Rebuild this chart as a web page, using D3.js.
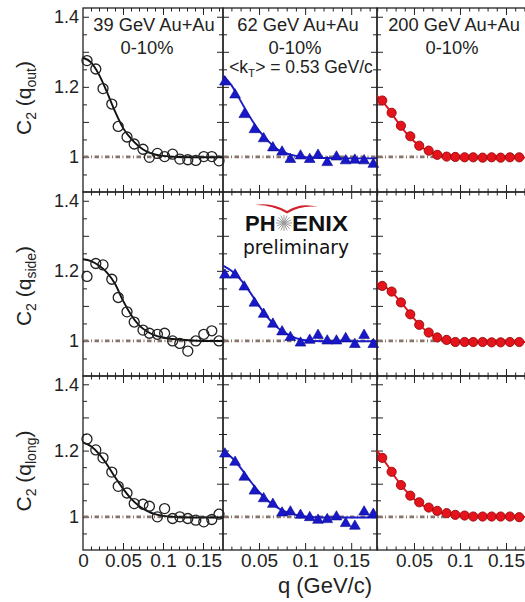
<!DOCTYPE html>
<html>
<head>
<meta charset="utf-8">
<script src="https://cdn.jsdelivr.net/npm/d3@7"></script>
<style>
body { margin: 0; background: #fff; }
svg { display: block; font-family: "Liberation Sans", Arial, sans-serif; }
</style>
</head>
<body>
<div id="chart"></div>
<script>
// C2 correlation functions - 3 beam energies (columns) x 3 directions (rows)

var energies = ["39 GeV Au+Au", "62 GeV Au+Au", "200 GeV Au+Au"];
var centrality = "0-10%";
var directions = ["out", "side", "long"];

// data points, 39 GeV (open circles)
var q39 = [0.005, 0.016, 0.025, 0.036, 0.044, 0.055, 0.064, 0.075, 0.083, 0.093, 0.102, 0.112, 0.121, 0.131, 0.141, 0.151, 0.161, 0.170];
var c39Out  = [1.275, 1.251, 1.195, 1.151, 1.087, 1.057, 1.037, 1.022, 0.999, 1.010, 1.001, 1.008, 0.994, 0.992, 0.990, 1.001, 1.001, 0.989];
var c39Side = [1.184, 1.221, 1.217, 1.176, 1.124, 1.083, 1.054, 1.031, 1.022, 1.019, 1.022, 1.000, 0.993, 0.971, 1.000, 1.019, 1.029, 1.000];
var c39Long = [1.235, 1.202, 1.178, 1.135, 1.092, 1.072, 1.040, 1.038, 1.032, 1.000, 1.025, 0.995, 1.000, 0.995, 0.990, 0.985, 0.992, 1.008];

// 62 GeV (blue triangles)
var q62 = [0.013, 0.024, 0.034, 0.045, 0.055, 0.065, 0.075, 0.084, 0.095, 0.105, 0.114, 0.124, 0.134, 0.144, 0.154, 0.164, 0.174];
var c62Out  = [1.217, 1.180, 1.124, 1.081, 1.055, 1.029, 1.017, 0.996, 1.006, 0.996, 1.008, 0.987, 1.003, 0.992, 0.994, 0.992, 0.982];
var c62Side = [1.191, 1.191, 1.157, 1.111, 1.079, 1.051, 1.029, 1.013, 0.997, 1.005, 1.019, 1.003, 1.003, 1.010, 0.993, 1.019, 0.993];
var c62Long = [1.193, 1.168, 1.123, 1.081, 1.058, 1.041, 1.015, 1.018, 1.008, 1.001, 0.993, 0.995, 1.003, 0.983, 0.975, 1.018, 1.011];

// 200 GeV (red circles)
var q200 = [0.0155, 0.0257, 0.0358, 0.046, 0.0557, 0.066, 0.0753, 0.0855, 0.0949, 0.105, 0.1144, 0.1246, 0.1344, 0.1442, 0.1543, 0.1644];
var c200Out  = [1.161, 1.126, 1.089, 1.059, 1.032, 1.018, 1.006, 1.001, 1.000, 0.999, 0.999, 0.998, 0.999, 0.998, 0.999, 0.999];
var c200Side = [1.157, 1.141, 1.110, 1.076, 1.046, 1.024, 1.010, 1.003, 0.997, 0.997, 0.997, 0.997, 0.996, 0.996, 0.997, 0.997];
var c200Long = [1.178, 1.136, 1.096, 1.064, 1.044, 1.028, 1.018, 1.011, 1.006, 1.004, 1.001, 1.001, 1.001, 1.001, 1.001, 0.999];

// fit curves
var fitQ39 = [0, 0.01, 0.02, 0.03, 0.04, 0.05, 0.06, 0.07, 0.08, 0.09, 0.1, 0.12, 0.15, 0.175];
var fit39Out  = [1.283, 1.27, 1.235, 1.185, 1.13, 1.083, 1.052, 1.03, 1.015, 1.007, 1.003, 1.0, 0.999, 0.999];
var fit39Side = [1.233, 1.228, 1.215, 1.195, 1.163, 1.115, 1.075, 1.045, 1.027, 1.016, 1.01, 1.004, 1.0, 1.0];
var fit39Long = [1.225, 1.213, 1.19, 1.158, 1.12, 1.085, 1.055, 1.033, 1.018, 1.008, 1.003, 0.999, 0.998, 0.998];

var fitQ62 = [0.011, 0.02, 0.03, 0.04, 0.05, 0.06, 0.07, 0.08, 0.09, 0.1, 0.12, 0.15, 0.178];
var fit62Out  = [1.232, 1.205, 1.16, 1.115, 1.075, 1.045, 1.022, 1.01, 1.003, 0.999, 0.997, 0.996, 0.996];
var fit62Side = [1.215, 1.2, 1.175, 1.14, 1.1, 1.065, 1.038, 1.02, 1.008, 1.002, 0.999, 0.999, 0.999];
var fit62Long = [1.2, 1.18, 1.148, 1.11, 1.075, 1.048, 1.028, 1.014, 1.006, 1.001, 0.998, 0.998, 0.998];

var fitQ200 = [0.0098, 0.02, 0.03, 0.04, 0.05, 0.06, 0.07, 0.08, 0.09, 0.1, 0.12, 0.15, 0.178];
var fit200Out  = [1.175, 1.145, 1.108, 1.073, 1.045, 1.025, 1.012, 1.004, 1.0, 0.999, 0.998, 0.998, 0.998];
var fit200Side = [1.165, 1.152, 1.128, 1.097, 1.064, 1.036, 1.017, 1.006, 1.0, 0.998, 0.997, 0.997, 0.997];
var fit200Long = [1.2, 1.16, 1.118, 1.082, 1.054, 1.034, 1.02, 1.011, 1.006, 1.003, 1.001, 1.0, 1.0];

var yTickLabels = [1, 1.2, 1.4];
var xTickLabels39 = [0, 0.05, 0.1, 0.15];
var xTickLabelsHigh = [0.05, 0.1, 0.15];

// series table built from the arrays above
var series = [
  { q: q39, vals: [c39Out, c39Side, c39Long], fq: fitQ39, fits: [fit39Out, fit39Side, fit39Long], kind: "open" },
  { q: q62, vals: [c62Out, c62Side, c62Long], fq: fitQ62, fits: [fit62Out, fit62Side, fit62Long], kind: "tri" },
  { q: q200, vals: [c200Out, c200Side, c200Long], fq: fitQ200, fits: [fit200Out, fit200Side, fit200Long], kind: "red" }
];

// panel layout (pixels)
var W = 525, H = 602;
var cols = [
  { x0: 83, x1: 223, dom: [0, 0.175] },
  { x0: 223, x1: 377, dom: [0.0109, 0.178] },
  { x0: 377, x1: 531, dom: [0.0098, 0.1772] }
];
var rows = [
  { y0: 8, y1: 192 },
  { y0: 192, y1: 376 },
  { y0: 376, y1: 550 }
];
var yDom = [0.9, 1.425];

var lineColor = { open: "#111", tri: "#1c1cc8", red: "#e0141e" };

var svg = d3.select("#chart")
  .append("svg")
  .attr("width", W)
  .attr("height", H);

var xTicksAll = d3.range(0, 18).map(function(i) { return i / 100; });
var yTicksAll = d3.range(18, 29).map(function(i) { return Math.round(i * 5) / 100; });

cols.forEach(function(col, ci) {
  rows.forEach(function(row, ri) {
    var x = d3.scaleLinear().domain(col.dom).range([col.x0, col.x1]);
    var y = d3.scaleLinear().domain(yDom).range([row.y1, row.y0]);
    var s = series[ci];
    var g = svg.append("g");

    var xIn = xTicksAll.filter(function(v) { return v > col.dom[0] + 1e-6 && v < col.dom[1] - 1e-6; });
    var xMaj = xIn.filter(function(v) { return Math.round(v * 100) % 5 === 0; });
    var xMin = xIn.filter(function(v) { return Math.round(v * 100) % 5 !== 0; });
    var yIn = yTicksAll.filter(function(v) { return v > yDom[0] + 1e-6 && v < yDom[1]; });
    var yMaj = yIn.filter(function(v) { return Math.round(v * 100) % 10 === 0; });
    var yMin = yIn.filter(function(v) { return Math.round(v * 100) % 10 !== 0; });

    // inward ticks on all 4 sides
    function tickAxis(axis, vals, size, tr) {
      g.append("g")
        .attr("transform", tr)
        .call(axis.tickValues(vals).tickSize(size).tickFormat(""))
        .call(function(a) { a.select(".domain").remove(); a.selectAll("line").attr("stroke", "#222"); });
    }
    tickAxis(d3.axisBottom(x), xMaj, -7, "translate(0," + row.y1 + ")");
    tickAxis(d3.axisBottom(x), xMin, -3.5, "translate(0," + row.y1 + ")");
    tickAxis(d3.axisTop(x), xMaj, -7, "translate(0," + row.y0 + ")");
    tickAxis(d3.axisTop(x), xMin, -3.5, "translate(0," + row.y0 + ")");
    tickAxis(d3.axisLeft(y), yMaj, -6, "translate(" + col.x0 + ",0)");
    tickAxis(d3.axisLeft(y), yMin, -4, "translate(" + col.x0 + ",0)");
    tickAxis(d3.axisRight(y), yMaj, -6, "translate(" + col.x1 + ",0)");
    tickAxis(d3.axisRight(y), yMin, -4, "translate(" + col.x1 + ",0)");

    // frame
    g.append("rect")
      .attr("x", col.x0).attr("y", row.y0)
      .attr("width", col.x1 - col.x0).attr("height", row.y1 - row.y0)
      .attr("fill", "none").attr("stroke", "#222").attr("stroke-width", 1.3);

    // C2 = 1 reference line
    g.append("line")
      .attr("x1", col.x0 + 1).attr("x2", col.x1 - 1)
      .attr("y1", y(1)).attr("y2", y(1))
      .attr("stroke", "#86746a").attr("stroke-width", 2.8)
      .attr("stroke-dasharray", "4.5,2.5,1,2.5");

    // fit
    var fitPts = s.fq.map(function(q, i) { return [q, s.fits[ri][i]]; });
    g.append("path")
      .datum(fitPts)
      .attr("fill", "none")
      .attr("stroke", lineColor[s.kind])
      .attr("stroke-width", 1.9)
      .attr("d", d3.line()
        .x(function(d) { return x(d[0]); })
        .y(function(d) { return y(d[1]); })
        .curve(d3.curveMonotoneX));

    // points
    var pts = s.q.map(function(q, i) { return [q, s.vals[ri][i]]; });
    if (s.kind === "open") {
      g.selectAll("circle.p").data(pts).enter().append("circle")
        .attr("cx", function(d) { return x(d[0]); })
        .attr("cy", function(d) { return y(d[1]); })
        .attr("r", 5)
        .attr("fill", "none").attr("stroke", "#222").attr("stroke-width", 1.3);
    } else if (s.kind === "tri") {
      g.selectAll("path.p").data(pts).enter().append("path")
        .attr("transform", function(d) { return "translate(" + x(d[0]) + "," + (y(d[1]) + 1) + ")"; })
        .attr("d", d3.symbol().type(d3.symbolTriangle).size(50))
        .attr("fill", "#1818c8").attr("stroke", "#0a0a90").attr("stroke-width", 0.6);
    } else {
      g.selectAll("circle.p").data(pts).enter().append("circle")
        .attr("cx", function(d) { return x(d[0]); })
        .attr("cy", function(d) { return y(d[1]); })
        .attr("r", 4.6)
        .attr("fill", "#e5131c").attr("stroke", "#9a0a0a").attr("stroke-width", 0.9);
    }

    // tick labels
    if (ci === 0) {
      g.append("g")
        .attr("transform", "translate(" + col.x0 + ",0)")
        .call(d3.axisLeft(y).tickValues(yTickLabels).tickSize(0).tickPadding(4)
          .tickFormat(function(d) { return d === 1 ? "1" : d3.format(".1f")(d); }))
        .call(function(a) {
          a.select(".domain").remove();
          a.selectAll("text").attr("font-size", 18).attr("fill", "#222")
            .attr("font-family", "Liberation Sans, Arial, sans-serif");
        });
    }
    if (ri === 2) {
      g.append("g")
        .attr("transform", "translate(0," + row.y1 + ")")
        .call(d3.axisBottom(x).tickValues(ci === 0 ? xTickLabels39 : xTickLabelsHigh)
          .tickSize(0).tickPadding(4).tickFormat(function(d) { return String(d); }))
        .call(function(a) {
          a.select(".domain").remove();
          a.selectAll("text").attr("font-size", 19).attr("fill", "#222")
            .attr("font-family", "Liberation Sans, Arial, sans-serif");
        });
    }
  });
});

// panel titles
var titleX = [154, 298, 454];
var centX = [147, 295, 452];
energies.forEach(function(e, i) {
  svg.append("text").attr("x", titleX[i]).attr("y", 31)
    .attr("text-anchor", "middle").attr("font-size", 18.3).attr("fill", "#222").text(e);
  svg.append("text").attr("x", centX[i]).attr("y", 54)
    .attr("text-anchor", "middle").attr("font-size", 18.3).attr("fill", "#222").text(centrality);
});
var kt = svg.append("text").attr("x", 301).attr("y", 73)
  .attr("text-anchor", "middle").attr("font-size", 17.5).attr("fill", "#222");
kt.append("tspan").text("<k");
kt.append("tspan").attr("font-size", 11.5).attr("dy", 4).text("T");
kt.append("tspan").attr("dy", -4).text("> = 0.53 GeV/c");

// y titles
var rowCy = [98, 286, 471];
directions.forEach(function(dname, i) {
  var t = svg.append("text")
    .attr("transform", "translate(31," + rowCy[i] + ") rotate(-90)")
    .attr("text-anchor", "middle").attr("font-size", 21).attr("fill", "#222");
  t.append("tspan").text("C");
  t.append("tspan").attr("font-size", 14).attr("dy", 5).text("2");
  t.append("tspan").attr("dy", -5).text(" (q");
  t.append("tspan").attr("font-size", 14).attr("dy", 5).text(dname);
  t.append("tspan").attr("dy", -5).text(")");
});

// x title
svg.append("text").attr("x", 325).attr("y", 593)
  .attr("text-anchor", "middle").attr("font-size", 22).attr("fill", "#222")
  .text("q (GeV/c)");

// PHENIX preliminary logo
var logo = svg.append("g");
logo.append("path")
  .attr("d", "M255,205 Q272,202 287,211 Q301,202 318,207 Q301,205 287,213.5 Q272,204.5 255,205 Z")
  .attr("fill", "#d0202a");
logo.append("text").attr("x", 245).attr("y", 231)
  .attr("font-size", 22).attr("font-weight", "bold").attr("fill", "#111").text("PH");
logo.append("text").attr("x", 292).attr("y", 231)
  .attr("font-size", 22).attr("font-weight", "bold").attr("fill", "#111")
  .attr("textLength", 56).attr("lengthAdjust", "spacingAndGlyphs").text("ENIX");
var rays = d3.range(0, 16).map(function(i) { return i * Math.PI / 8; });
logo.selectAll("line.ray").data(rays).enter().append("line")
  .attr("x1", 284).attr("y1", 223)
  .attr("x2", function(a) { return 284 + 8 * Math.cos(a); })
  .attr("y2", function(a) { return 223 + 8 * Math.sin(a); })
  .attr("stroke", "#9a9a9a").attr("stroke-width", 1);
logo.append("text").attr("x", 243).attr("y", 254)
  .attr("font-size", 19).attr("font-family", "DejaVu Sans, sans-serif").attr("fill", "#111")
  .attr("textLength", 106).attr("lengthAdjust", "spacingAndGlyphs").text("preliminary");
</script>
</body>
</html>
